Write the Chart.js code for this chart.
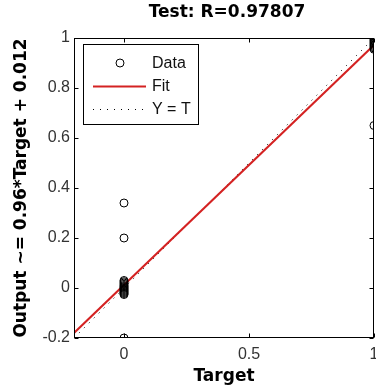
<!DOCTYPE html>
<html>
<head>
<meta charset="utf-8">
<script src="https://cdn.jsdelivr.net/npm/chart.js@4.4.0/dist/chart.umd.min.js"></script>
<style>
  html, body { margin: 0; padding: 0; background: #fff; overflow: hidden; }
</style>
</head>
<body>
<canvas id="grafico" width="376" height="389"></canvas>
<script>
// pontos de teste (target, output)
const dadosX = [0, 0, 0, 0, 0, 0, 0, 0, 0, 0, 0, 0, 0, 0, 0, 0, 0,
                1, 1, 1, 1, 1, 1, 1, 1, 1, 1, 1, 1, 1];
const dadosY = [0.34, 0.20, 0.03, 0.025, 0.02, 0.015, 0.01, 0.006, 0.002, -0.002, -0.006, -0.01, -0.014, -0.018, -0.022, -0.026, -0.2,
                1.012, 1.006, 1.0, 0.995, 0.99, 0.985, 0.98, 0.975, 0.97, 0.965, 0.96, 0.955, 0.65];

// reta de ajuste e Y = T (extremos)
const ajusteX = [-0.2, 1];
const ajusteY = [-0.18, 0.972];
const identX = [-0.2, 1];
const identY = [-0.2, 1];

const ticksX = [0, 0.5, 1];
const ticksY = [-0.2, 0, 0.2, 0.4, 0.6, 0.8, 1];
const rotulos = ["Data", "Fit", "Y = T"];

const titulo = "Test: R=0.97807";
const tituloX = "Target";
const tituloY = "Output ~= 0.96*Target + 0.012";

const fonteNegrito = { family: "'DejaVu Sans', sans-serif", size: 17, weight: "bold" };
const fonteTicks = { family: "'Liberation Sans', Arial, sans-serif", size: 16 };

function pares(xs, ys) {
  return xs.map((x, i) => ({ x, y: ys[i] }));
}

// titulo centrado sobre a area do grafico
const tituloCentro = {
  id: "tituloCentro",
  afterDraw(chart) {
    const { ctx, chartArea: a } = chart;
    ctx.save();
    ctx.fillStyle = "#000";
    ctx.font = "bold 17px 'DejaVu Sans', sans-serif";
    ctx.textAlign = "center";
    ctx.textBaseline = "middle";
    ctx.fillText(titulo, (a.left + a.right) / 2 + 3, 13);
    ctx.restore();
  }
};

// caixa do eixo com ticks para dentro (estilo matlab)
const moldura = {
  id: "moldura",
  afterDatasetsDraw(chart) {
    const { ctx, chartArea: a, scales: { x, y } } = chart;
    const esq = Math.round(a.left) + 0.5;
    const dir = Math.round(a.right) - 0.5;
    const topo = Math.round(a.top) + 0.5;
    const base = Math.round(a.bottom) - 0.5;
    const t = 4;

    ctx.save();
    ctx.strokeStyle = "#000";
    ctx.lineWidth = 1;
    ctx.strokeRect(esq, topo, dir - esq, base - topo);

    ctx.beginPath();
    ticksX.forEach(v => {
      const px = Math.round(x.getPixelForValue(v)) + 0.5;
      ctx.moveTo(px, base); ctx.lineTo(px, base - t);
      ctx.moveTo(px, topo); ctx.lineTo(px, topo + t);
    });
    ticksY.forEach(v => {
      const py = Math.round(y.getPixelForValue(v)) + 0.5;
      ctx.moveTo(esq, py); ctx.lineTo(esq + t, py);
      ctx.moveTo(dir, py); ctx.lineTo(dir - t, py);
    });
    ctx.stroke();
    ctx.restore();
  }
};

// legenda com borda dentro da area do grafico
const legendaCaixa = {
  id: "legendaCaixa",
  afterDraw(chart) {
    const { ctx } = chart;
    const caixa = { x: 83, y: 44, w: 115, h: 80 };
    const linhasY = [63, 86, 109];

    ctx.save();
    ctx.fillStyle = "#fff";
    ctx.fillRect(caixa.x, caixa.y, caixa.w, caixa.h);
    ctx.strokeStyle = "#000";
    ctx.lineWidth = 1;
    ctx.strokeRect(caixa.x + 0.5, caixa.y + 0.5, caixa.w, caixa.h);

    chart.data.datasets.forEach((ds, i) => {
      const yy = linhasY[i];
      if (ds.showLine === false) {
        ctx.beginPath();
        ctx.arc(120, yy, ds.pointRadius, 0, Math.PI * 2);
        ctx.strokeStyle = ds.pointBorderColor;
        ctx.lineWidth = ds.pointBorderWidth;
        ctx.stroke();
      } else {
        ctx.beginPath();
        ctx.setLineDash(ds.borderDash || []);
        ctx.strokeStyle = ds.borderColor;
        ctx.lineWidth = ds.borderWidth;
        ctx.moveTo(93, yy + 0.5);
        ctx.lineTo(146, yy + 0.5);
        ctx.stroke();
        ctx.setLineDash([]);
      }
      ctx.fillStyle = "#111";
      ctx.font = "16px 'Liberation Sans', Arial, sans-serif";
      ctx.textBaseline = "middle";
      ctx.fillText(ds.label, 152, yy + 1);
    });
    ctx.restore();
  }
};

new Chart(document.getElementById("grafico"), {
  type: "scatter",
  data: {
    datasets: [
      {
        label: rotulos[0],
        data: pares(dadosX, dadosY),
        showLine: false,
        pointStyle: "circle",
        pointRadius: 4,
        pointBorderWidth: 1,
        pointBorderColor: "#000",
        pointBackgroundColor: "rgba(0,0,0,0)",
        order: 0
      },
      {
        label: rotulos[1],
        data: pares(ajusteX, ajusteY),
        showLine: true,
        borderColor: "#d42222",
        borderWidth: 2,
        pointRadius: 0,
        order: 1
      },
      {
        label: rotulos[2],
        data: pares(identX, identY),
        showLine: true,
        borderColor: "#000",
        borderWidth: 1,
        borderDash: [1, 6],
        pointRadius: 0,
        order: 2
      }
    ]
  },
  options: {
    responsive: false,
    animation: false,
    devicePixelRatio: 1,
    layout: {
      autoPadding: false,
      padding: { left: 0, right: 2, top: 38, bottom: 0 }
    },
    plugins: {
      legend: { display: false },
      tooltip: { enabled: false },
      title: { display: false }
    },
    scales: {
      x: {
        type: "linear",
        min: -0.2,
        max: 1,
        grid: { display: false, drawTicks: false },
        border: { display: false },
        afterBuildTicks: s => { s.ticks = ticksX.map(v => ({ value: v })); },
        afterFit: s => {
          s.height = 51;
          s.paddingLeft = 0;
          s.paddingRight = 0;
        },
        ticks: {
          padding: 7,
          color: "#333",
          font: fonteTicks,
          callback: v => String(v)
        },
        title: {
          display: true,
          text: tituloX,
          color: "#000",
          font: fonteNegrito,
          padding: { top: 0, bottom: 2 }
        }
      },
      y: {
        type: "linear",
        min: -0.2,
        max: 1,
        grid: { display: false, drawTicks: false },
        border: { display: false },
        afterBuildTicks: s => { s.ticks = ticksY.map(v => ({ value: v })); },
        afterFit: s => {
          s.width = 74;
          s.paddingTop = 0;
          s.paddingBottom = 0;
        },
        ticks: {
          padding: 4,
          color: "#333",
          font: fonteTicks,
          callback: v => String(v)
        },
        title: {
          display: true,
          text: tituloY,
          color: "#000",
          font: fonteNegrito,
          padding: { top: 11, bottom: 0 }
        }
      }
    }
  },
  plugins: [moldura, legendaCaixa, tituloCentro]
});
</script>
</body>
</html>
